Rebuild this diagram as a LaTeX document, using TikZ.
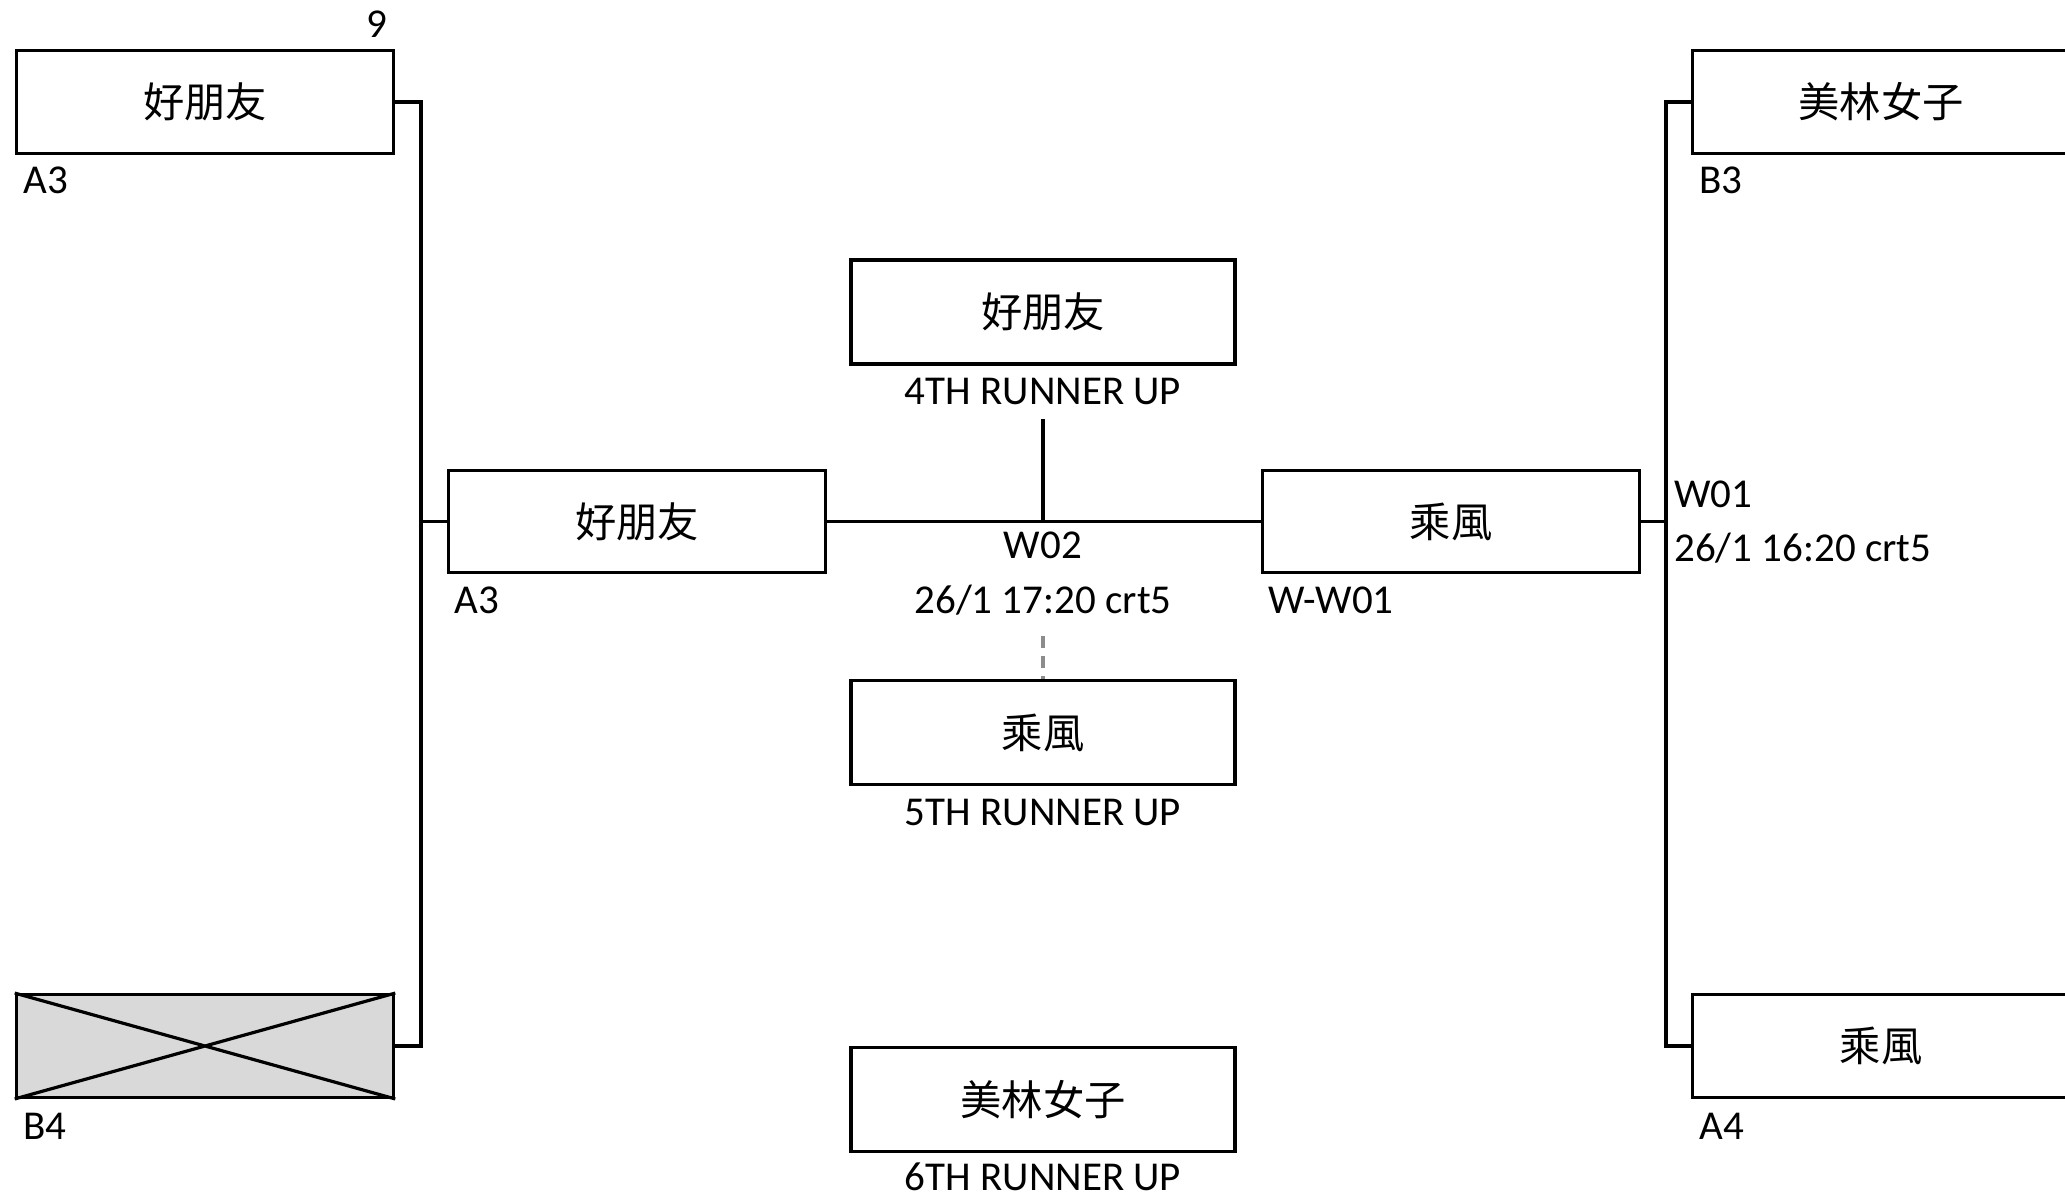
\documentclass[tikz,border=0pt]{standalone}
\usepackage{fontspec}
\setmainfont{Carlito}
\newfontfamily\cjk{Noto Sans CJK TC}
\begin{document}
\begin{tikzpicture}[x=0.75pt,y=-0.75pt,
  team/.style={draw=black,line width=2.4pt,minimum width=283pt,minimum height=77pt,inner sep=0pt,
    font=\cjk\fontsize{31}{36}\selectfont},
  wide/.style={minimum width=288pt,minimum height=78pt},
  lbl/.style={inner sep=0pt,font=\fontsize{30.75}{36}\selectfont},
  link/.style={draw=black,line width=2.4pt},
  dash3/.style={draw=black!45,line width=2.4pt,dash pattern=on 9pt off 6pt}]
\useasboundingbox (0,0) rectangle (2065,1199);
% boxes
\node[team] (L1) at (205,102) {好朋友};
\node[team,fill=black!15] (L2) at (205,1046) {};
\draw[line width=2.4pt] (L2.north west) -- (L2.south east) (L2.south west) -- (L2.north east);
\node[team] (M1) at (637,521.5) {好朋友};
\node[team,wide] (T4) at (1043,312) {好朋友};
\node[team,wide] (T5) at (1043,732.5) {乘風};
\node[team,wide] (T6) at (1043,1099.5) {美林女子};
\node[team] (R0) at (1451,521.5) {乘風};
\node[team] (R1) at (1881,102) {美林女子};
\node[team] (R2) at (1881,1046) {乘風};
% labels
\node[lbl,anchor=base] (n9) at (377,37) {9};
\node[lbl,anchor=base west] (la3) at (23,193) {A3};
\node[lbl,anchor=base west] (lb4) at (23,1139) {B4};
\node[lbl,anchor=base west] (ma3) at (454,613) {A3};
\node[lbl,anchor=base] (r4) at (1043,404) {4TH RUNNER UP};
\node[lbl,anchor=base] (w02) at (1043,558) {W02};
\node[lbl,anchor=base] (t02) at (1043,613) {26/1 17:20 crt5};
\node[lbl,anchor=base] (r5) at (1043,825) {5TH RUNNER UP};
\node[lbl,anchor=base] (r6) at (1043,1190) {6TH RUNNER UP};
\node[lbl,anchor=base west] (ww01) at (1268,613) {W-W01};
\node[lbl,anchor=base west] (w01) at (1674,507) {W01};
\node[lbl,anchor=base west] (t01) at (1674,561) {26/1 16:20 crt5};
\node[lbl,anchor=base west] (rb3) at (1699,193) {B3};
\node[lbl,anchor=base west] (ra4) at (1699,1139) {A4};
% connectors
\coordinate (jl) at (421,521.5);
\coordinate (jr) at (1666,521.5);
\coordinate (jm) at (1043,521.5);
\coordinate (jtop) at (1043,419);
\coordinate (jdash) at (1043,636);
\draw[link] (L1.east) -| (jl) |- (L2.east);
\draw[link] (jl) -- (M1.west);
\draw[link] (M1.east) -- (R0.west);
\draw[link] (jtop) -- (jm);
\draw[dash3] (jdash) -- (T5.north);
\draw[link] (R1.west) -| (jr) |- (R2.west);
\draw[link] (R0.east) -- (jr);
\end{tikzpicture}
\end{document}
